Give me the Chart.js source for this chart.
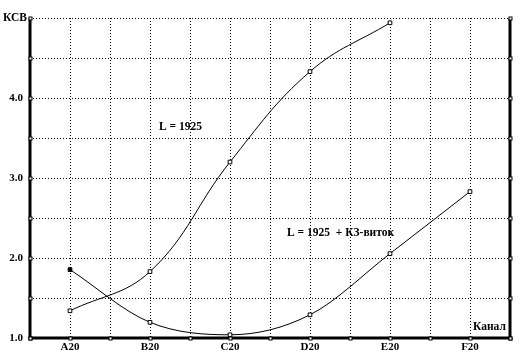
<!DOCTYPE html>
<html><head><meta charset="utf-8">
<script src="https://cdn.jsdelivr.net/npm/chart.js@4/dist/chart.umd.min.js"></script>
<style>html,body{margin:0;padding:0;background:#fff}#c{display:block}</style>
</head><body>
<canvas id="c" width="523" height="356"></canvas>
<script>
const categories = ['A20','B20','C20','D20','E20','F20'];
const seriesL1925 = [1.34, 1.83, 3.20, 4.33, 4.94];
const seriesL1925KZ = [1.855, 1.196, 1.04, 1.29, 2.055, 2.83];
const yTickLabels = {1:'1.0', 2:'2.0', 3:'3.0', 4:'4.0'};
const yAxisTitle = 'КСВ';
const label1 = 'L = 1925';
const label2 = 'L = 1925  + КЗ-виток';
const xAxisTitle = 'Канал';

const FONT = 'bold 11.5px "Liberation Serif", "DejaVu Serif", serif';

const toPts = arr => arr.map((v,i)=>({x:i, y:v}));

const decor = {
  id:'decor',
  afterDraw(chart){
    const ctx = chart.ctx, a = chart.chartArea;
    const xs = chart.scales.x, ys = chart.scales.y;
    ctx.save();
    ctx.strokeStyle = '#000';
    ctx.lineWidth = 3;
    ctx.beginPath();
    ctx.moveTo(a.left, a.top); ctx.lineTo(a.left, a.bottom+1);
    ctx.moveTo(a.right, a.top); ctx.lineTo(a.right, a.bottom+1);
    ctx.moveTo(a.left, a.bottom); ctx.lineTo(a.right, a.bottom);
    ctx.stroke();
    ctx.lineWidth = 1;
    ctx.fillStyle = '#fff';
    const sq = (x,y)=>{ctx.fillRect(x-1.5,y-1.5,3,3);ctx.strokeRect(x-1.5,y-1.5,3,3);};
    for (let v=1; v<=5.0001; v+=0.5){
      const y = Math.round(ys.getPixelForValue(v))+0.5;
      sq(Math.round(a.left)+0.5, y);
      sq(Math.round(a.right)+0.5, y);
    }
    for (let v=-0.5; v<=5.5001; v+=0.5){
      const x = Math.round(xs.getPixelForValue(v))+0.5;
      sq(x, Math.round(a.bottom)+0.5);
    }
    ctx.fillStyle = '#000';
    ctx.font = FONT;
    ctx.textBaseline = 'middle';
    ctx.textAlign = 'left';
    ctx.fillText(yAxisTitle, 3, ys.getPixelForValue(5));
    ctx.fillText(label1, 159, 127);
    ctx.fillText(label2, 287, 233);
    ctx.fillText(xAxisTitle, 473, 327);
    ctx.restore();
  }
};

new Chart(document.getElementById('c'), {
  type:'line',
  data:{
    datasets:[
      {data:toPts(seriesL1925), borderColor:'#000', borderWidth:1, tension:0.4,
       pointStyle:'rect', pointRadius:2.6, pointBorderWidth:1, pointBorderColor:'#000', pointBackgroundColor:'#fff'},
      {data:toPts(seriesL1925KZ), borderColor:'#000', borderWidth:1, cubicInterpolationMode:'monotone',
       pointStyle:'rect', pointRadius:2.6, pointBorderWidth:1, pointBorderColor:'#000',
       pointBackgroundColor:seriesL1925KZ.map((v,i)=>i===0?'#000':'#fff')}
    ]
  },
  options:{
    responsive:false, animation:false,
    layout:{padding:{top:18, right:13, left:0, bottom:0}},
    plugins:{legend:{display:false}, tooltip:{enabled:false}},
    scales:{
      x:{type:'linear', min:-0.5, max:5.5,
        afterFit(s){s.height=18;},
        border:{display:false, dash:[1,2]},
        grid:{color:'#000', lineWidth:1, drawTicks:false},
        ticks:{stepSize:0.5, autoSkip:false, maxRotation:0, padding:3, color:'#000', font:{family:'"Liberation Serif"', size:11, weight:'bold'},
          callback:v=> Number.isInteger(v) && v>=0 && v<categories.length ? categories[v] : ''}
      },
      y:{min:1, max:5,
        afterFit(s){s.width=30;},
        border:{display:false, dash:[1,2]},
        grid:{color:'#000', lineWidth:1, drawTicks:false},
        ticks:{stepSize:0.5, autoSkip:false, padding:7, color:'#000', font:{family:'"Liberation Serif"', size:11, weight:'bold'},
          callback:v=> yTickLabels[v] || ''}
      }
    }
  },
  plugins:[decor]
});
</script>
</body></html>
